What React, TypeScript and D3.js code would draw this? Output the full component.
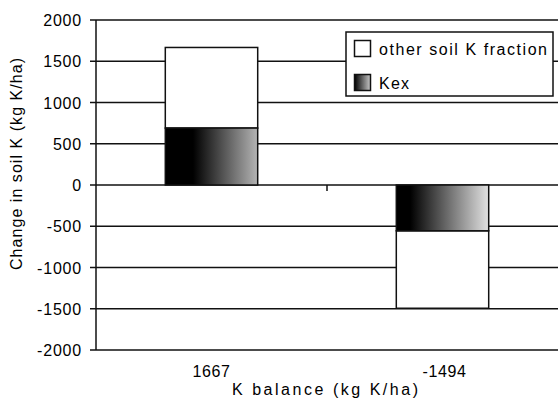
import React from "react";
import * as d3 from "d3";

// Soil K change split into exchangeable K (Kex) and the remaining soil K fraction
const categories = ["1667", "-1494"];
const kexValues = [690, -555];
const otherValues = [977, -939];
const yTicks = [-2000, -1500, -1000, -500, 0, 500, 1000, 1500, 2000];
const seriesNames = ["other soil K fraction", "Kex"];

const W = 558;
const H = 401;
const plot = { left: 96, right: 558, top: 20, bottom: 350 };
const FONT = "'Liberation Sans', Arial, sans-serif";

export default function App() {
  const x = d3
    .scaleBand<string>()
    .domain(categories)
    .range([plot.left, plot.right])
    .padding(0);
  const y = d3.scaleLinear().domain([-2000, 2000]).range([plot.bottom, plot.top]);
  const barW = x.bandwidth() * 0.4;

  const bars = categories.map((c, i) => {
    const cx = (x(c) as number) + x.bandwidth() / 2;
    const kex = kexValues[i];
    const total = kex + otherValues[i];
    return { c, i, cx, kex, total };
  });

  return (
    <svg
      width={W}
      height={H}
      style={{ position: "absolute", left: 0, top: 0, background: "#fff" }}
      fontFamily={FONT}
    >
      <defs>
        <linearGradient id="kexGrad0" x1="0" x2="1" y1="0" y2="0">
          <stop offset="0" stopColor="#000" />
          <stop offset="0.3" stopColor="#000" />
          <stop offset="1" stopColor="#b4b4b4" />
        </linearGradient>
        <linearGradient id="kexGrad1" x1="0" x2="1" y1="0" y2="0">
          <stop offset="0" stopColor="#000" />
          <stop offset="0.15" stopColor="#000" />
          <stop offset="1" stopColor="#e2e2e2" />
        </linearGradient>
        <linearGradient id="kexGradLegend" x1="0" x2="1" y1="0" y2="0">
          <stop offset="0" stopColor="#000" />
          <stop offset="1" stopColor="#c8c8c8" />
        </linearGradient>
      </defs>

      {/* horizontal gridlines */}
      {yTicks.map((t) => (
        <line
          key={"g" + t}
          x1={plot.left}
          x2={plot.right}
          y1={y(t)}
          y2={y(t)}
          stroke="#111"
          strokeWidth={1.5}
        />
      ))}

      {/* stacked bars */}
      {bars.map((b) => (
        <g key={b.c}>
          <rect
            x={b.cx - barW / 2}
            y={Math.min(y(b.total), y(b.kex))}
            width={barW}
            height={Math.abs(y(b.total) - y(b.kex))}
            fill="#fff"
            stroke="#111"
            strokeWidth={1.5}
          />
          <rect
            x={b.cx - barW / 2}
            y={Math.min(y(0), y(b.kex))}
            width={barW}
            height={Math.abs(y(0) - y(b.kex))}
            fill={`url(#kexGrad${b.i})`}
            stroke="#111"
            strokeWidth={1.5}
          />
        </g>
      ))}

      {/* y axis */}
      <line x1={plot.left} x2={plot.left} y1={plot.top} y2={plot.bottom} stroke="#111" strokeWidth={1.5} />
      {yTicks.map((t) => (
        <g key={"t" + t}>
          <line x1={plot.left - 6} x2={plot.left} y1={y(t)} y2={y(t)} stroke="#111" strokeWidth={1.5} />
          <text
            x={82}
            y={y(t) + 6}
            textAnchor="end"
            fontSize={16}
            letterSpacing={0.8}
            fill="#000"
          >
            {t}
          </text>
        </g>
      ))}

      {/* x axis on the zero line, with category separator ticks */}
      {categories.slice(1).map((c) => (
        <line
          key={"xt" + c}
          x1={x(c) as number}
          x2={x(c) as number}
          y1={y(0)}
          y2={y(0) + 6}
          stroke="#111"
          strokeWidth={1.5}
        />
      ))}

      {/* category labels below the plot */}
      {bars.map((b) => (
        <text
          key={"xl" + b.c}
          x={b.cx + (b.i === 1 ? 2 : 0)}
          y={377}
          textAnchor="middle"
          fontSize={16}
          letterSpacing={0.6}
          fill="#000"
        >
          {b.c}
        </text>
      ))}

      {/* axis titles */}
      <text
        x={325}
        y={395}
        textAnchor="middle"
        fontSize={16}
        textLength={186}
        lengthAdjust="spacing"
        fill="#000"
      >
        K balance (kg K/ha)
      </text>
      <text
        transform={`translate(22,164) rotate(-90)`}
        textAnchor="middle"
        fontSize={16}
        textLength={212}
        lengthAdjust="spacing"
        fill="#000"
      >
        Change in soil K (kg K/ha)
      </text>

      {/* legend */}
      <g>
        <rect x={346} y={32} width={207} height={64} fill="#fff" stroke="#111" strokeWidth={1.5} />
        <rect x={354.5} y={40.5} width={16} height={16} fill="#fff" stroke="#111" strokeWidth={1.5} />
        <text x={379} y={55} fontSize={16} textLength={168} lengthAdjust="spacing" fill="#000">
          {seriesNames[0]}
        </text>
        <rect x={354.5} y={74.5} width={16} height={16} fill="url(#kexGradLegend)" stroke="#111" strokeWidth={1.5} />
        <text x={379} y={89} fontSize={16} textLength={30} lengthAdjust="spacing" fill="#000">
          {seriesNames[1]}
        </text>
      </g>
    </svg>
  );
}
